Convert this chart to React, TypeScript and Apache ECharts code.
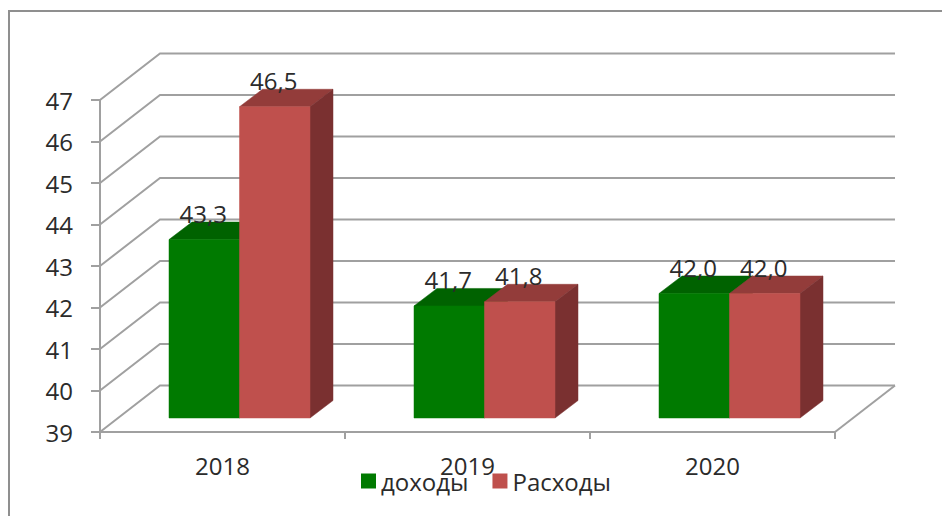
import React, { useEffect, useRef } from "react";
import * as echarts from "echarts";

const categories = ["2018", "2019", "2020"];
const incomeName = "доходы";
const expenseName = "Расходы";
const income = [43.3, 41.7, 42.0];
const expense = [46.5, 41.8, 42.0];
const yTicks = [39, 40, 41, 42, 43, 44, 45, 46, 47];

const FONT = "'Open Sans', 'Noto Sans', sans-serif";
const TEXT = "#2b2b2b";
const GRID = "#a0a0a0";
const WALL_DX = 60;
const WALL_DY = 46.5;
const BAR_W = 70.5;
const PLANE_DX = 17;
const PLANE_DY = 14;
const DEPTH_DX = 23;
const DEPTH_DY = 17.5;

const wallItem = (params: any, api: any) => {
  const v = api.value(0);
  const y = api.coord([0, v])[1];
  const l = params.coordSys.x;
  const r = l + params.coordSys.width;
  const line = (shapePts: number[][]) => ({
    type: "polyline",
    shape: { points: shapePts },
    style: { fill: "none", stroke: GRID, lineWidth: 2 },
  });
  const children: any[] = [
    line([
      [l, y],
      [l + WALL_DX, y - WALL_DY],
      [r + WALL_DX, y - WALL_DY],
    ]),
  ];
  if (v === yTicks[0]) {
    children.push(
      line([
        [r + WALL_DX, y - WALL_DY],
        [r, y],
      ]),
    );
  }
  return { type: "group", children };
};

const barRender = (side: number, front: string, top: string, right: string) => (_p: any, api: any) => {
  const i = api.value(0);
  const v = api.value(1);
  const cx = api.coord([i, v])[0] + PLANE_DX;
  const yTop = api.coord([i, v])[1] - PLANE_DY;
  const yBase = api.coord([i, yTicks[0]])[1] - PLANE_DY;
  const x0 = side < 0 ? cx - BAR_W : cx;
  const x1 = x0 + BAR_W;
  const poly = (points: number[][], fill: string) => ({
    type: "polygon",
    shape: { points },
    style: { fill, stroke: fill, lineWidth: 0.5 },
  });
  return {
    type: "group",
    children: [
      poly(
        [
          [x0, yTop],
          [x0 + DEPTH_DX, yTop - DEPTH_DY],
          [x1 + DEPTH_DX, yTop - DEPTH_DY],
          [x1, yTop],
        ],
        top,
      ),
      poly(
        [
          [x1, yTop],
          [x1 + DEPTH_DX, yTop - DEPTH_DY],
          [x1 + DEPTH_DX, yBase - DEPTH_DY],
          [x1, yBase],
        ],
        right,
      ),
      poly(
        [
          [x0, yTop],
          [x1, yTop],
          [x1, yBase],
          [x0, yBase],
        ],
        front,
      ),
    ],
  };
};

const labelRender = (side: number) => (_p: any, api: any) => {
  const i = api.value(0);
  const v = api.value(1);
  const pt = api.coord([i, v]);
  return {
    type: "text",
    x: pt[0] + PLANE_DX + (side * BAR_W) / 2 - 1,
    y: pt[1] - PLANE_DY - 26,
    style: {
      text: v.toFixed(1).replace(".", ","),
      font: `24px ${FONT}`,
      fill: TEXT,
      textAlign: "center",
      textVerticalAlign: "middle",
    },
  };
};

const pairs = (vals: number[]) => vals.map((v, i) => [i, v]);

export default function App() {
  const ref = useRef<HTMLDivElement>(null);
  useEffect(() => {
    const chart = echarts.init(ref.current!, null, { renderer: "svg" });
    chart.setOption({
      animation: false,
      backgroundColor: "#ffffff",
      grid: { left: 100, right: 107, top: 100, bottom: 84, containLabel: false },
      graphic: [
        {
          type: "polyline",
          silent: true,
          shape: { points: [[9, 516], [9, 11], [942, 11]] },
          style: { fill: "none", stroke: "#8f8f8f", lineWidth: 2 },
        },
      ],
      legend: {
        left: 356,
        top: 464,
        itemWidth: 15,
        itemHeight: 15,
        itemGap: 24,
        icon: "rect",
        data: [incomeName, expenseName],
        textStyle: { fontFamily: FONT, fontSize: 24, color: TEXT },
      },
      xAxis: {
        type: "category",
        data: categories,
        boundaryGap: true,
        axisLine: { lineStyle: { color: GRID, width: 2 } },
        axisTick: { show: true, length: 7, alignWithLabel: false, lineStyle: { color: GRID, width: 2 } },
        axisLabel: { fontFamily: FONT, fontSize: 24, color: TEXT, margin: 21 },
      },
      yAxis: {
        type: "value",
        min: 39,
        max: 47,
        interval: 1,
        splitLine: { show: false },
        axisLine: { show: true, lineStyle: { color: GRID, width: 2 } },
        axisTick: { show: true, length: 9, lineStyle: { color: GRID, width: 2 } },
        axisLabel: { fontFamily: FONT, fontSize: 24, color: TEXT, margin: 27 },
      },
      series: [
        { type: "custom", name: "walls", silent: true, data: yTicks.map((v) => [v]), encode: { y: 0 }, renderItem: wallItem, z: 1, clip: false },
        {
          type: "custom",
          name: incomeName,
          data: pairs(income),
          encode: { x: 0, y: 1 },
          renderItem: barRender(-1, "#007a00", "#006200", "#005a00"),
          itemStyle: { color: "#007a00" },
          z: 2,
          clip: false,
        },
        {
          type: "custom",
          name: expenseName,
          data: pairs(expense),
          encode: { x: 0, y: 1 },
          renderItem: barRender(1, "#bf504d", "#933c3a", "#7a3030"),
          itemStyle: { color: "#bf504d" },
          z: 3,
          clip: false,
        },
        { type: "custom", name: "labels-a", silent: true, data: pairs(income), encode: { x: 0, y: 1 }, renderItem: labelRender(-1), z: 4, clip: false },
        { type: "custom", name: "labels-b", silent: true, data: pairs(expense), encode: { x: 0, y: 1 }, renderItem: labelRender(1), z: 4, clip: false },
      ],
    });
    return () => chart.dispose();
  }, []);
  return <div ref={ref} style={{ position: "fixed", left: 0, top: 0, width: 942, height: 516 }} />;
}
